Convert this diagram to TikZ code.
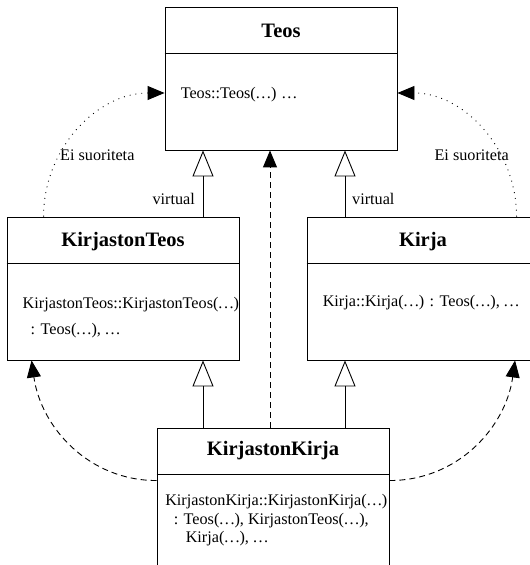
\documentclass[tikz,border=0pt]{standalone}
\usepackage{fontspec}
\setmainfont{Liberation Serif}
\usetikzlibrary{arrows.meta}
\newcommand{\pisteet}{.\kern1.5pt.\kern1.5pt.}

\begin{document}
\begin{tikzpicture}[x=1pt,y=1pt,
  luokka/.style={draw, line width=0.9pt, minimum width=232pt, minimum height=143pt, inner sep=0pt},
  nimi/.style={font=\fontsize{20.5}{24}\selectfont\bfseries, inner sep=0pt},
  teksti/.style={font=\fontsize{16.2}{18.6}\selectfont, inner sep=0pt, align=left},
  perii/.style={line width=0.9pt, -{Triangle[open, length=26pt, width=21pt]}},
  kutsuu/.style={line width=0.9pt, dash pattern=on 6pt off 4pt, -{Triangle[length=17pt, width=14pt]}},
  eikutsu/.style={line width=0.9pt, dash pattern=on 0.9pt off 5pt, -{Triangle[length=17pt, width=14pt]}}]
\useasboundingbox (0,0) rectangle (530,565);
\clip (0,0) rectangle (530,565);

\node[luokka] (teos) at (281,486.5) {};
\node[luokka] (kteos) at (123,276.5) {};
\node[luokka] (kirja) at (423,276.5) {};
\node[luokka] (kkirja) at (273,65.5) {};
\foreach \n in {teos,kteos,kirja,kkirja}
  \draw[line width=0.9pt] ([yshift=-47pt]\n.north west) -- ([yshift=-47pt]\n.north east);

\node[nimi] (teosnimi) at ([yshift=-24pt]teos.north) {Teos};
\node[nimi] (kteosnimi) at ([yshift=-25pt]kteos.north) {KirjastonTeos};
\node[nimi] (kirjanimi) at ([yshift=-25pt]kirja.north) {Kirja};
\node[nimi] (kkirjanimi) at ([yshift=-23pt]kkirja.north) {KirjastonKirja};

\node[teksti, anchor=west] (teosrak) at ([xshift=16pt,yshift=-88pt]teos.north west) {Teos::Teos(\pisteet) \pisteet};
\node[teksti, anchor=north west] (kteosrak) at ([xshift=16pt,yshift=-81pt]kteos.north west)
  {KirjastonTeos::KirjastonTeos(\pisteet)\\[6.7pt]\hspace{8pt}: Teos(\pisteet), \pisteet};
\node[teksti, anchor=west] (kirjarak) at ([xshift=16pt,yshift=-86pt]kirja.north west) {Kirja::Kirja(\pisteet) : Teos(\pisteet), \pisteet};
\node[teksti, anchor=north west] (kkirjarak) at ([xshift=8.5pt,yshift=-66.5pt]kkirja.north west)
  {KirjastonKirja::KirjastonKirja(\pisteet)\\\hspace{8.5pt}: Teos(\pisteet), KirjastonTeos(\pisteet),\\\hspace{20.5pt}Kirja(\pisteet), \pisteet};

\coordinate (vasen) at (203,0);
\coordinate (keski) at (270,0);
\coordinate (oikea) at (345,0);

\draw[perii] (kteos.north -| vasen) -- (teos.south -| vasen);
\draw[perii] (kirja.north -| oikea) -- (teos.south -| oikea);
\draw[perii] (kkirja.north -| vasen) -- (kteos.south -| vasen);
\draw[perii] (kkirja.north -| oikea) -- (kirja.south -| oikea);
\draw[kutsuu] (kkirja.north -| keski) -- (teos.south -| keski);

\node[teksti, anchor=east] (virtV) at (195,366.5) {virtual};
\node[teksti, anchor=west] (virtO) at (352,366.5) {virtual};

\draw[kutsuu] ([yshift=-53pt]kkirja.north west) to[out=180,in=-82] ([xshift=25pt]kteos.south west);
\draw[kutsuu] ([yshift=-53pt]kkirja.north east) to[out=0,in=-98] ([xshift=208.5pt]kirja.south west);

\draw[eikutsu] ([xshift=37pt]kteos.north west) to[out=90,in=180] ([yshift=-14.5pt]teos.west);
\draw[eikutsu] ([xshift=210pt]kirja.north west) to[out=90,in=0] ([yshift=-14.5pt]teos.east);

\node[teksti, anchor=west] (eiV) at (60,409.5) {Ei suoriteta};
\node[teksti, anchor=east] (eiO) at (509,409.5) {Ei suoriteta};
\end{tikzpicture}
\end{document}
